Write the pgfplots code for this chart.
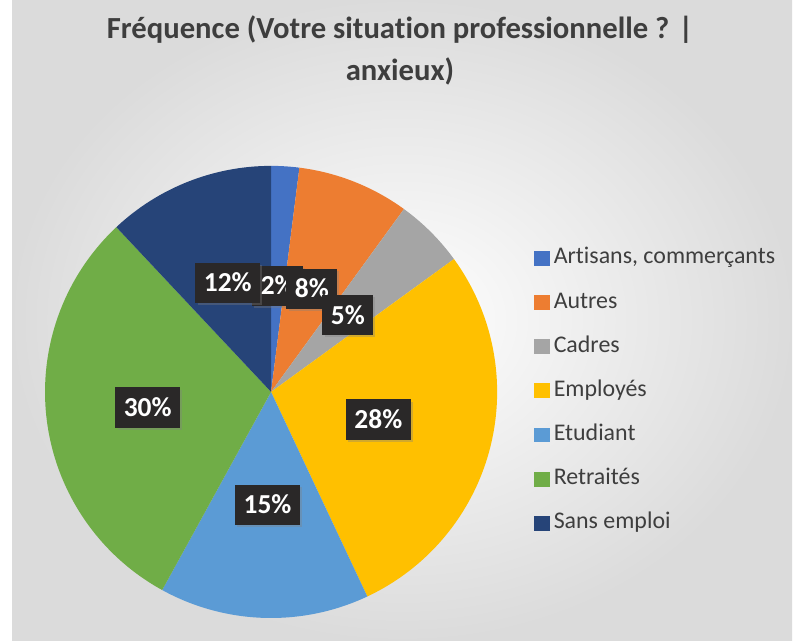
\documentclass[border=0pt]{standalone}
\usepackage{fontspec}
\setmainfont[Ligatures=NoCommon]{Carlito}
\usepackage{pgfplots}
\pgfplotsset{compat=1.18}
\usepackage{pgfplotstable}
\usetikzlibrary{shadows}

\definecolor{cArt}{HTML}{4472C4}
\definecolor{cAut}{HTML}{ED7D31}
\definecolor{cCad}{HTML}{A5A5A5}
\definecolor{cEmp}{HTML}{FFC000}
\definecolor{cEtu}{HTML}{5B9BD5}
\definecolor{cRet}{HTML}{70AD47}
\definecolor{cSan}{HTML}{264478}
\definecolor{txtgray}{RGB}{62,62,62}
\definecolor{boxgray}{RGB}{42,40,40}

% share (%) clockwise from 12 o'clock; lr = label distance (fraction of radius)
\pgfplotstableread[col sep=semicolon]{
label;value;color;lr
Artisans, commerçants;2;cArt;0.47
Autres;8;cAut;0.49
Cadres;5;cCad;0.48
Employés;28;cEmp;0.49
Etudiant;15;cEtu;0.50
Retraités;30;cRet;0.55
Sans emploi;12;cSan;0.52
}\piedata
\pgfplotstablegetrowsof{\piedata}
\pgfmathtruncatemacro\lastrow{\pgfplotsretval-1}

\begin{document}
\begin{tikzpicture}[x=0.025cm, y=0.025cm]
% background (800 x 640 px)
\fill[white] (0,0) rectangle (800,640);
\shade[inner color=white, outer color=black!14] (12,0) rectangle (792,640);
\useasboundingbox (0,0) rectangle (800,640);

% title
\node[anchor=base, text=txtgray, font=\fontsize{21.8}{26}\selectfont\bfseries]
  at (400,601) {Fréquence (Votre situation professionnelle ? |};
\node[anchor=base, text=txtgray, font=\fontsize{21.8}{26}\selectfont\bfseries]
  at (400,559) {anxieux)};

\begin{axis}[
    hide axis,
    scale only axis,
    width=11.3cm, height=11.3cm,
    xmin=-1, xmax=1, ymin=-1, ymax=1,
    at={(1.125cm,0.55cm)}, anchor=south west,
    legend cell align=left,
    legend image code/.code={\fill[#1, draw=none] (0pt,-5.3pt) rectangle (10.7pt,5.3pt);},
    legend style={
        at={(1.082,0.821)}, anchor=north west,
        draw=none, fill=none,
        font=\fontsize{17}{20}\selectfont, text=txtgray,
        inner sep=0pt, row sep=15.4pt, column sep=3pt,
        nodes={inner sep=0pt, text height=12pt, text depth=4pt},
    },
]
\pgfplotsforeachungrouped \i in {0,...,\lastrow}{%
  \pgfplotstablegetelem{\i}{color}\of\piedata \let\c=\pgfplotsretval
  \pgfplotstablegetelem{\i}{label}\of\piedata \let\l=\pgfplotsretval
  \edef\tmp{\noexpand\addlegendimage{fill=\c, draw=none}\noexpand\addlegendentry{\l}}\tmp
}
\pgfplotsextra{
  % wedges
  \def\cum{0}
  \pgfplotsforeachungrouped \i in {0,...,\lastrow}{%
    \pgfplotstablegetelem{\i}{value}\of\piedata \let\v=\pgfplotsretval
    \pgfplotstablegetelem{\i}{color}\of\piedata \let\c=\pgfplotsretval
    \pgfmathsetmacro\a{90-3.6*\cum}
    \pgfmathsetmacro\b{90-3.6*(\cum+\v)}
    \fill[\c] (axis cs:0,0) -- (axis cs:{cos(\a)},{sin(\a)})
      arc[start angle=\a, end angle=\b, radius=5.65cm] -- cycle;
    \pgfmathsetmacro\cum{\cum+\v}
  }
  % data labels
  \def\cum{0}
  \pgfplotsforeachungrouped \i in {0,...,\lastrow}{%
    \pgfplotstablegetelem{\i}{value}\of\piedata \let\v=\pgfplotsretval
    \pgfplotstablegetelem{\i}{lr}\of\piedata \let\r=\pgfplotsretval
    \pgfmathsetmacro\m{90-3.6*(\cum+\v/2)}
    \node[fill=boxgray, text=white, font=\fontsize{19.5}{23}\selectfont\bfseries,
          inner xsep=6pt, inner ysep=8pt, text height=12.5pt, text depth=0pt,
          drop shadow={opacity=0.35, shadow xshift=1.5pt, shadow yshift=-1.5pt}]
      at (axis cs:{\r*cos(\m)},{\r*sin(\m)}) {\v\%};
    \pgfmathsetmacro\cum{\cum+\v}
  }
}
\end{axis}
\end{tikzpicture}
\end{document}
